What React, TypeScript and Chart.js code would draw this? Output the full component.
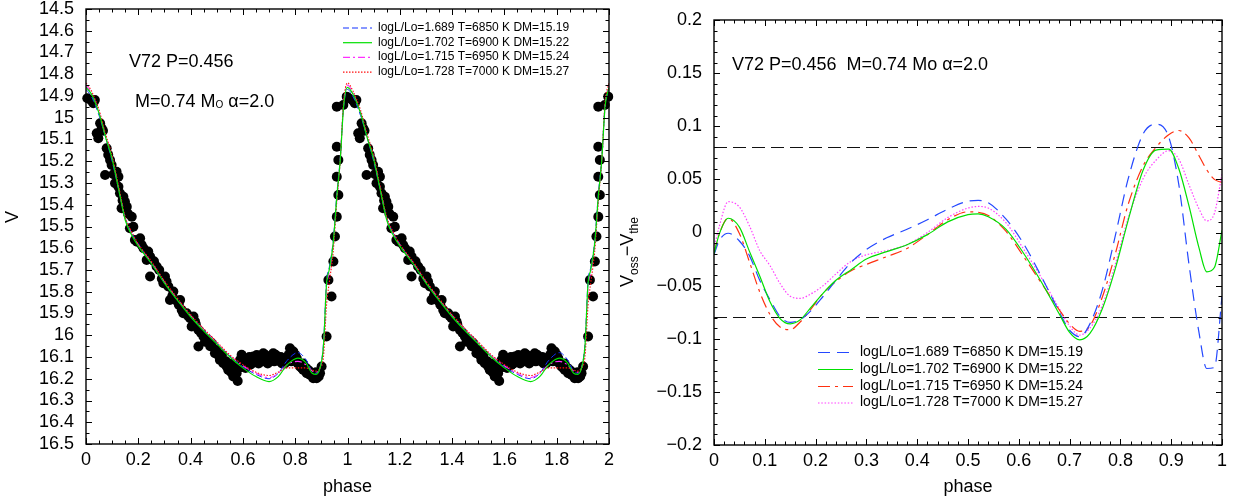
import React, { useEffect, useRef } from 'react';
import { Chart, registerables } from 'chart.js';

Chart.register(...registerables);

const FONT = "'Liberation Sans', Arial, Helvetica, sans-serif";

// ---------------- Left panel: light curve ----------------
const obsPhase = [
  0.005, 0.028, 0.034, 0.041, 0.047, 0.054, 0.060, 0.073, 0.079, 0.092,
  0.098, 0.111, 0.117, 0.124, 0.124, 0.130, 0.136, 0.143, 0.149, 0.156,
  0.168, 0.175, 0.181, 0.187, 0.207, 0.213, 0.232, 0.238, 0.245, 0.245,
  0.270, 0.296, 0.302, 0.308, 0.315, 0.321, 0.334, 0.360, 0.366, 0.372,
  0.385, 0.398, 0.404, 0.411, 0.417, 0.430, 0.430, 0.449, 0.468, 0.481,
  0.493, 0.500, 0.512, 0.520, 0.525, 0.538, 0.544, 0.555, 0.560, 0.563,
  0.576, 0.580, 0.589, 0.600, 0.602, 0.614, 0.620, 0.627, 0.640, 0.650,
  0.653, 0.665, 0.670, 0.678, 0.691, 0.700, 0.704, 0.716, 0.729, 0.735,
  0.742, 0.755, 0.760, 0.767, 0.780, 0.790, 0.793, 0.806, 0.818, 0.830,
  0.831, 0.844, 0.850, 0.857, 0.869, 0.875, 0.882, 0.890, 0.895, 0.901,
  0.920, 0.927, 0.939, 0.946, 0.952, 0.959, 0.965, 0.959, 0.965, 0.959,
  0.959, 0.984, 0.997,
  0.585, 0.595, 0.610, 0.625, 0.635, 0.645, 0.660, 0.675, 0.685, 0.695,
  0.710, 0.720, 0.725, 0.745, 0.750, 0.775, 0.785, 0.800, 0.810, 0.825,
  0.840, 0.860, 0.880, 0.570, 0.535, 0.550,
  0.020, 0.065, 0.085, 0.105, 0.140, 0.160, 0.195, 0.220, 0.260, 0.280,
  0.290, 0.330, 0.345, 0.355, 0.390, 0.420, 0.440, 0.455, 0.475, 0.505,
];
const obsV = [
  14.910, 14.933, 14.918, 15.071, 15.094, 15.025, 15.048, 15.263, 15.140, 15.194,
  15.217, 15.301, 15.248, 15.271, 15.317, 15.347, 15.416, 15.363, 15.386, 15.409,
  15.508, 15.455, 15.501, 15.562, 15.554, 15.585, 15.654, 15.615, 15.638, 15.730,
  15.684, 15.761, 15.730, 15.753, 15.776, 15.838, 15.799, 15.838, 15.884, 15.899,
  15.899, 15.922, 15.960, 15.914, 15.937, 15.976, 16.052, 16.006, 16.022, 16.037,
  16.083, 16.068, 16.114, 16.090, 16.129, 16.144, 16.160, 16.170, 16.130, 16.190,
  16.175, 16.210, 16.114, 16.100, 16.137, 16.129, 16.120, 16.137, 16.098, 16.120,
  16.091, 16.098, 16.110, 16.083, 16.106, 16.120, 16.098, 16.083, 16.098, 16.110,
  16.121, 16.106, 16.130, 16.114, 16.060, 16.100, 16.075, 16.106, 16.144, 16.130,
  16.160, 16.175, 16.160, 16.183, 16.198, 16.185, 16.198, 16.190, 16.175, 16.144,
  16.006, 15.746, 15.822, 15.661, 15.546, 15.455, 15.355, 15.271, 15.194, 15.133,
  14.949, 14.941, 14.903,
  16.150, 16.090, 16.150, 16.100, 16.130, 16.110, 16.130, 16.120, 16.090, 16.130,
  16.110, 16.120, 16.090, 16.100, 16.130, 16.090, 16.120, 16.090, 16.130, 16.150,
  16.150, 16.170, 16.170, 16.140, 16.120, 16.140,
  14.920, 15.060, 15.170, 15.260, 15.380, 15.440, 15.570, 15.600, 15.660, 15.700,
  15.740, 15.820, 15.840, 15.860, 15.910, 15.950, 15.990, 16.030, 16.050, 16.090,
];
const cycleShifts = [0, 1];

const modelPhase = [
  0, 0.02, 0.05, 0.075, 0.10, 0.125, 0.15, 0.175, 0.20, 0.25, 0.30, 0.35,
  0.40, 0.45, 0.50, 0.55, 0.60, 0.65, 0.70, 0.735, 0.77, 0.81, 0.84, 0.865,
  0.88, 0.895, 0.908, 0.92, 0.93, 0.945, 0.96, 0.972, 0.985, 1.0,
];
const modelV1689 = [
  14.87, 14.90, 14.99, 15.09, 15.20, 15.33, 15.46, 15.53, 15.58, 15.67, 15.76, 15.84,
  15.91, 15.975, 16.035, 16.095, 16.145, 16.18, 16.20, 16.175, 16.115, 16.08, 16.11, 16.165,
  16.175, 16.15, 16.04, 15.75, 15.69, 15.57, 15.34, 15.19, 14.95, 14.87,
];
const modelV1702 = [
  14.86, 14.89, 14.98, 15.09, 15.19, 15.33, 15.47, 15.54, 15.59, 15.67, 15.76, 15.84,
  15.915, 15.98, 16.04, 16.10, 16.15, 16.19, 16.213, 16.19, 16.135, 16.105, 16.125, 16.175,
  16.18, 16.15, 16.05, 15.76, 15.70, 15.58, 15.35, 15.20, 14.95, 14.86,
];
const modelV1715 = [
  14.85, 14.885, 14.975, 15.085, 15.185, 15.325, 15.465, 15.535, 15.585, 15.665, 15.755, 15.835,
  15.91, 15.975, 16.035, 16.095, 16.14, 16.175, 16.195, 16.175, 16.135, 16.12, 16.135, 16.165,
  16.17, 16.15, 16.06, 15.78, 15.71, 15.59, 15.36, 15.20, 14.94, 14.85,
];
const modelV1728 = [
  14.84, 14.875, 14.965, 15.075, 15.175, 15.315, 15.455, 15.525, 15.58, 15.66, 15.75, 15.83,
  15.905, 15.97, 16.03, 16.09, 16.135, 16.17, 16.185, 16.17, 16.15, 16.15, 16.15, 16.16,
  16.165, 16.15, 16.10, 15.86, 15.76, 15.62, 15.37, 15.20, 14.93, 14.84,
];

const modelLabels = [
  'logL/Lo=1.689 T=6850 K DM=15.19',
  'logL/Lo=1.702 T=6900 K DM=15.22',
  'logL/Lo=1.715 T=6950 K DM=15.24',
  'logL/Lo=1.728 T=7000 K DM=15.27',
];

const leftXTicks = [0, 0.2, 0.4, 0.6, 0.8, 1, 1.2, 1.4, 1.6, 1.8, 2];
const leftXTickLabels = ['0', '0.2', '0.4', '0.6', '0.8', '1', '1.2', '1.4', '1.6', '1.8', '2'];
const leftYTicks = [
  14.5, 14.6, 14.7, 14.8, 14.9, 15, 15.1, 15.2, 15.3, 15.4, 15.5,
  15.6, 15.7, 15.8, 15.9, 16, 16.1, 16.2, 16.3, 16.4, 16.5,
];
const leftYTickLabels = [
  '14.5', '14.6', '14.7', '14.8', '14.9', '15', '15.1', '15.2', '15.3', '15.4', '15.5',
  '15.6', '15.7', '15.8', '15.9', '16', '16.1', '16.2', '16.3', '16.4', '16.5',
];

// ---------------- Right panel: residuals ----------------
const resPhase = [
  0, 0.01, 0.028, 0.05, 0.07, 0.09, 0.11, 0.13, 0.15, 0.17, 0.19, 0.215, 0.24, 0.27,
  0.30, 0.34, 0.38, 0.42, 0.46, 0.50, 0.52, 0.54, 0.575, 0.61, 0.645, 0.68, 0.70,
  0.72, 0.74, 0.765, 0.79, 0.815, 0.845, 0.87, 0.895, 0.915, 0.935, 0.955, 0.97,
  0.985, 1.0,
];
const res1689 = [
  -0.021, -0.008, -0.0007, -0.008, -0.022, -0.045, -0.063, -0.079, -0.0846, -0.082, -0.074, -0.060, -0.045, -0.028,
  -0.016, -0.005, 0.003, 0.012, 0.022, 0.0295, 0.0302, 0.028, 0.0125, -0.011, -0.042, -0.075, -0.092,
  -0.098, -0.086, -0.053, -0.003, 0.050, 0.093, 0.102, 0.090, 0.045, -0.030, -0.095, -0.128,
  -0.127, -0.06,
];
const res1702 = [
  -0.020, -0.002, 0.0134, 0.005, -0.018, -0.041, -0.065, -0.081, -0.086, -0.082, -0.071, -0.057, -0.045, -0.035,
  -0.025, -0.018, -0.0115, -0.002, 0.010, 0.0168, 0.0175, 0.0148, 0.003, -0.020, -0.047, -0.077, -0.094,
  -0.101, -0.095, -0.071, -0.034, 0.011, 0.059, 0.0775, 0.0785, 0.060, 0.025, -0.015, -0.037,
  -0.033, 0.002,
];
const res1715 = [
  -0.020, -0.002, 0.0134, -0.001, -0.028, -0.056, -0.077, -0.089, -0.0915, -0.084, -0.0725, -0.057, -0.046, -0.036,
  -0.030, -0.0227, -0.015, -0.002, 0.012, 0.0195, 0.019, 0.016, 0.001, -0.023, -0.048, -0.073, -0.086,
  -0.093, -0.088, -0.060, -0.020, 0.026, 0.063, 0.080, 0.092, 0.096, 0.089, 0.072, 0.059,
  0.050, 0.047,
];
const res1728 = [
  -0.015, 0.005, 0.029, 0.024, 0.006, -0.017, -0.031, -0.048, -0.060, -0.062, -0.058, -0.050, -0.039, -0.027,
  -0.021, -0.017, -0.0115, 0.000, 0.014, 0.023, 0.0245, 0.023, 0.009, -0.016, -0.043, -0.072, -0.088,
  -0.0965, -0.090, -0.068, -0.030, 0.013, 0.051, 0.068, 0.077, 0.069, 0.045, 0.022, 0.011,
  0.018, 0.055,
];
const refLevels = [0.08, -0.08];
const refPhase = [0, 1];

const rightXTicks = [0, 0.1, 0.2, 0.3, 0.4, 0.5, 0.6, 0.7, 0.8, 0.9, 1];
const rightXTickLabels = ['0', '0.1', '0.2', '0.3', '0.4', '0.5', '0.6', '0.7', '0.8', '0.9', '1'];
const rightYTicks = [-0.2, -0.15, -0.1, -0.05, 0, 0.05, 0.1, 0.15, 0.2];
const rightYTickLabels = ['\u22120.2', '\u22120.15', '\u22120.1', '\u22120.05', '0', '0.05', '0.1', '0.15', '0.2'];

const xTitle = 'phase';
const leftYTitle = 'V';
const leftNote1 = 'V72 P=0.456';
const leftNote2 = [
  { t: 'M=0.74 M', size: 18, dy: 0 },
  { t: 'O', size: 10, dy: 3 },
  { t: ' \u03b1=2.0', size: 18, dy: 0 },
];
const rightNote = 'V72 P=0.456  M=0.74 Mo \u03b1=2.0';
const rightYTitle = [
  { t: 'V', size: 18, dy: 0 },
  { t: 'oss', size: 12, dy: 5 },
  { t: '\u2212V', size: 18, dy: 0 },
  { t: 'the', size: 12, dy: 5 },
];

// ---------------- helpers ----------------
function range(a: number, b: number, step: number): number[] {
  const out: number[] = [];
  const n = Math.round((b - a) / step);
  for (let i = 0; i <= n; i++) out.push(+(a + i * step).toFixed(6));
  return out;
}

function pts(xs: number[], ys: number[], shift = 0, skipFirst = false) {
  const out: { x: number; y: number }[] = [];
  xs.forEach((x, i) => {
    if (skipFirst && i === 0) return;
    out.push({ x: x + shift, y: ys[i] });
  });
  return out;
}

function cycles(xs: number[], ys: number[], isLine: boolean) {
  let out: { x: number; y: number }[] = [];
  cycleShifts.forEach((c, k) => {
    out = out.concat(pts(xs, ys, c, isLine && k > 0).filter((p) => p.x <= 2.0001));
  });
  return out;
}

type Seg = { t: string; size: number; dy: number };
function drawRich(ctx: CanvasRenderingContext2D, segs: Seg[], x: number, y: number) {
  let cx = x;
  segs.forEach((s) => {
    ctx.font = `${s.size}px ${FONT}`;
    ctx.fillText(s.t, cx, y + s.dy);
    cx += ctx.measureText(s.t).width;
  });
  return cx - x;
}
function richWidth(ctx: CanvasRenderingContext2D, segs: Seg[]) {
  let w = 0;
  segs.forEach((s) => {
    ctx.font = `${s.size}px ${FONT}`;
    w += ctx.measureText(s.t).width;
  });
  return w;
}

type TickCfg = { xMajor: number[]; xMinor: number[]; yMajor: number[]; yMinor: number[]; major: number; minor: number };

function framePlugin(cfg: TickCfg) {
  return {
    id: 'frameTicks',
    afterDatasetsDraw(chart: any) {
      const { ctx, chartArea } = chart;
      const { left, right, top, bottom } = chartArea;
      const xs = chart.scales.x;
      const ys = chart.scales.y;
      ctx.save();
      ctx.setLineDash([]);
      ctx.strokeStyle = '#000';
      ctx.lineWidth = 1;
      ctx.beginPath();
      const tx = (v: number, len: number) => {
        const p = Math.round(xs.getPixelForValue(v)) + 0.5;
        ctx.moveTo(p, bottom);
        ctx.lineTo(p, bottom - len);
        ctx.moveTo(p, top);
        ctx.lineTo(p, top + len);
      };
      const ty = (v: number, len: number) => {
        const p = Math.round(ys.getPixelForValue(v)) + 0.5;
        ctx.moveTo(left, p);
        ctx.lineTo(left + len, p);
        ctx.moveTo(right, p);
        ctx.lineTo(right - len, p);
      };
      cfg.xMinor.forEach((v) => tx(v, cfg.minor));
      cfg.xMajor.forEach((v) => tx(v, cfg.major));
      cfg.yMinor.forEach((v) => ty(v, cfg.minor));
      cfg.yMajor.forEach((v) => ty(v, cfg.major));
      ctx.stroke();
      ctx.lineWidth = 1.4;
      ctx.strokeRect(left, top, right - left, bottom - top);
      ctx.restore();
    },
  };
}

function scaleCfg(min: number, max: number, ticks: number[], labels: string[], opts: any) {
  return {
    type: 'linear',
    min,
    max,
    reverse: !!opts.reverse,
    grid: { display: false, drawTicks: false },
    border: { display: false },
    afterBuildTicks: (s: any) => {
      s.ticks = ticks.map((v) => ({ value: v }));
    },
    afterFit: (s: any) => {
      if (opts.width !== undefined) s.width = opts.width;
      if (opts.height !== undefined) s.height = opts.height;
      s.paddingTop = 0;
      s.paddingBottom = 0;
      s.paddingLeft = 0;
      s.paddingRight = 0;
    },
    ticks: {
      padding: opts.padding,
      autoSkip: false,
      maxRotation: 0,
      minRotation: 0,
      color: '#000',
      font: { family: FONT, size: 18 },
      callback: (_v: any, i: number) => labels[i],
    },
    title: opts.title
      ? {
          display: true,
          text: opts.title,
          color: '#000',
          font: { family: FONT, size: 18 },
          padding: { top: 0, bottom: 4 },
        }
      : { display: false },
  };
}

const leftStyles = [
  { color: '#1030ff', dash: [6, 3], width: 1 },
  { color: '#00e000', dash: [], width: 1.2 },
  { color: '#ff30ff', dash: [7, 3, 2, 3], width: 1.1 },
  { color: '#ff1010', dash: [1.5, 1.5], width: 1.1 },
];
const rightStyles = [
  { color: '#2448ff', dash: [12, 7], width: 1.2 },
  { color: '#00e000', dash: [], width: 1.2 },
  { color: '#ff3010', dash: [12, 5, 3, 5], width: 1.2 },
  { color: '#ff40ff', dash: [1.5, 1.8], width: 1.2 },
];

function legendPlugin(styles: any[], x0: number, x1: number, tx: number, rows: number[], size: number) {
  return {
    id: 'legendBox',
    afterDraw(chart: any) {
      const ctx = chart.ctx as CanvasRenderingContext2D;
      ctx.save();
      modelLabels.forEach((lab, i) => {
        const st = styles[i];
        ctx.strokeStyle = st.color;
        ctx.lineWidth = st.width;
        ctx.setLineDash(st.dash);
        ctx.beginPath();
        ctx.moveTo(x0, rows[i] + 0.5);
        ctx.lineTo(x1, rows[i] + 0.5);
        ctx.stroke();
        ctx.setLineDash([]);
        ctx.fillStyle = '#000';
        ctx.font = `${size}px ${FONT}`;
        ctx.textBaseline = 'middle';
        ctx.textAlign = 'left';
        ctx.fillText(lab, tx, rows[i]);
      });
      ctx.restore();
    },
  };
}

function lineDs(data: any[], st: any, label: string) {
  return {
    label,
    data,
    showLine: true,
    pointRadius: 0,
    borderColor: st.color,
    backgroundColor: st.color,
    borderWidth: st.width,
    borderDash: st.dash,
    cubicInterpolationMode: 'monotone',
    fill: false,
  };
}

export default function App() {
  const leftRef = useRef<HTMLCanvasElement | null>(null);
  const rightRef = useRef<HTMLCanvasElement | null>(null);

  useEffect(() => {
    if (!leftRef.current || !rightRef.current) return;

    const leftModels = [modelV1689, modelV1702, modelV1715, modelV1728];
    const leftLines = leftModels.map((arr, i) => lineDs(cycles(modelPhase, arr, true), leftStyles[i], modelLabels[i]));
    const leftDatasets: any[] = [leftLines[1], leftLines[3], leftLines[2], leftLines[0]];
    leftDatasets.push({
      label: 'observed',
      data: cycles(obsPhase, obsV, false),
      showLine: false,
      pointRadius: 5,
      pointBorderWidth: 0,
      pointBackgroundColor: '#000',
      pointBorderColor: '#000',
      clip: false,
    });

    const leftTextPlugin = {
      id: 'leftText',
      afterDraw(chart: any) {
        const ctx = chart.ctx as CanvasRenderingContext2D;
        ctx.save();
        ctx.fillStyle = '#000';
        ctx.textAlign = 'left';
        ctx.textBaseline = 'middle';
        ctx.font = `18px ${FONT}`;
        ctx.fillText(leftNote1, 129, 62);
        drawRich(ctx, leftNote2, 135, 102);
        ctx.translate(13, 217);
        ctx.rotate(-Math.PI / 2);
        ctx.textAlign = 'center';
        ctx.font = `18px ${FONT}`;
        ctx.fillText(leftYTitle, 0, 0);
        ctx.restore();
      },
    };

    const left = new Chart(leftRef.current, {
      type: 'scatter',
      data: { datasets: leftDatasets },
      options: {
        responsive: false,
        animation: false,
        devicePixelRatio: 1,
        events: [],
        layout: { padding: { left: 0, right: 11, top: 9, bottom: 0 } },
        plugins: { legend: { display: false }, tooltip: { enabled: false } },
        scales: {
          x: scaleCfg(0, 2, leftXTicks, leftXTickLabels, { height: 58, padding: 5, title: xTitle }),
          y: scaleCfg(14.5, 16.5, leftYTicks, leftYTickLabels, { width: 86, padding: 12, reverse: true }),
        } as any,
      },
      plugins: [
        framePlugin({
          xMajor: leftXTicks,
          xMinor: range(0, 2, 0.05),
          yMajor: leftYTicks,
          yMinor: range(14.5, 16.5, 0.05),
          major: 6,
          minor: 3.5,
        }),
        leftTextPlugin,
        legendPlugin(leftStyles, 343, 372, 378, [27.5, 42.2, 56.9, 71.6], 12),
      ],
    } as any);

    const rightSeries = [res1689, res1702, res1715, res1728];
    const rightLines = rightSeries.map((arr, i) => lineDs(pts(resPhase, arr), rightStyles[i], modelLabels[i]));
    const rightDatasets: any[] = [rightLines[1], rightLines[0], rightLines[2], rightLines[3]];
    refLevels.forEach((lvl) => {
      rightDatasets.push({
        label: 'ref',
        data: refPhase.map((p) => ({ x: p, y: lvl })),
        showLine: true,
        pointRadius: 0,
        borderColor: '#111',
        borderWidth: 1,
        borderDash: [13, 6],
        fill: false,
      });
    });

    const OFF = 612;
    const rightTextPlugin = {
      id: 'rightText',
      afterDraw(chart: any) {
        const ctx = chart.ctx as CanvasRenderingContext2D;
        ctx.save();
        ctx.fillStyle = '#000';
        ctx.textAlign = 'left';
        ctx.textBaseline = 'middle';
        ctx.font = `18px ${FONT}`;
        ctx.fillText(rightNote, 732 - OFF, 65);
        ctx.translate(626 - OFF, 252);
        ctx.rotate(-Math.PI / 2);
        ctx.textBaseline = 'alphabetic';
        const w = richWidth(ctx, rightYTitle);
        drawRich(ctx, rightYTitle, -w / 2, 6.5);
        ctx.restore();
      },
    };

    const right = new Chart(rightRef.current, {
      type: 'scatter',
      data: { datasets: rightDatasets },
      options: {
        responsive: false,
        animation: false,
        devicePixelRatio: 1,
        events: [],
        layout: { padding: { left: 0, right: 15, top: 20, bottom: 0 } },
        plugins: { legend: { display: false }, tooltip: { enabled: false } },
        scales: {
          x: scaleCfg(0, 1, rightXTicks, rightXTickLabels, { height: 57, padding: 5, title: xTitle }),
          y: scaleCfg(-0.2, 0.2, rightYTicks, rightYTickLabels, { width: 102, padding: 12 }),
        } as any,
      },
      plugins: [
        framePlugin({
          xMajor: rightXTicks,
          xMinor: range(0, 1, 0.02),
          yMajor: rightYTicks,
          yMinor: range(-0.2, 0.2, 0.01),
          major: 6,
          minor: 3.5,
        }),
        rightTextPlugin,
        legendPlugin(rightStyles, 818 - OFF, 853 - OFF, 860 - OFF, [352, 369, 386, 402.5], 14),
      ],
    } as any);

    return () => {
      left.destroy();
      right.destroy();
    };
  }, []);

  return (
    <div style={{ position: 'absolute', left: 0, top: 0, width: 1237, height: 502, background: '#fff', overflow: 'hidden' }}>
      <canvas ref={leftRef} width={620} height={502} style={{ position: 'absolute', left: 0, top: 0 }} />
      <canvas ref={rightRef} width={625} height={502} style={{ position: 'absolute', left: 612, top: 0 }} />
    </div>
  );
}
